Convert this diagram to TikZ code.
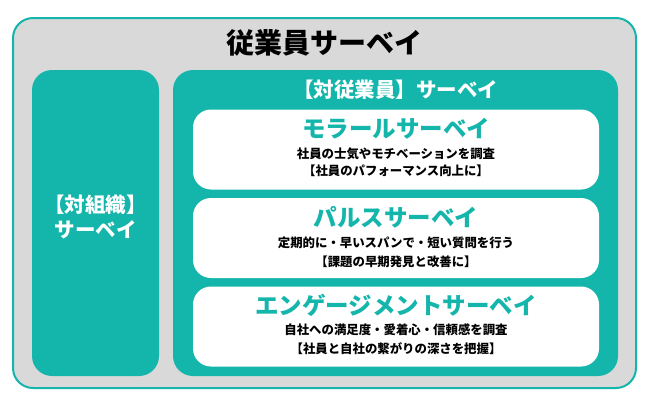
\documentclass[tikz,border=0pt]{standalone}
\usepackage{fontspec}
\setmainfont{Noto Sans CJK JP}
\definecolor{teal}{RGB}{20,181,171}
\definecolor{lgray}{RGB}{217,217,217}
\tikzset{
  frame/.style={draw=teal,line width=2pt,fill=lgray,rounded corners=20pt,inner sep=0pt,outer sep=0pt},
  panel/.style={fill=teal,rounded corners=20pt,inner sep=0pt,outer sep=0pt},
  card/.style={fill=white,rounded corners=18pt,inner sep=0pt,outer sep=0pt,minimum width=406pt,minimum height=80pt},
  maintitle/.style={font=\bfseries\fontsize{28}{30}\selectfont,text=black,inner sep=0pt},
  paneltitle/.style={font=\bfseries\fontsize{20.5}{24}\selectfont,text=white,inner sep=0pt},
  cardtitle/.style={font=\bfseries\fontsize{23.5}{26}\selectfont,text=teal,inner sep=0pt},
  cardtext/.style={font=\bfseries\fontsize{12.4}{14}\selectfont,text=black,inner sep=0pt},
}
\begin{document}
\begin{tikzpicture}[x=1pt,y=-1pt]
\useasboundingbox (0,0) rectangle (650,400);
\node[frame,minimum width=623pt,minimum height=370pt] (outer) at (324.5,203) {};
\node[panel,minimum width=127pt,minimum height=306pt] (left) at (95.5,223) {};
\node[panel,minimum width=445pt,minimum height=306pt] (right) at (395.5,223) {};
\node[card] (c1) at (396,149.5) {};
\node[card] (c2) at (396,238) {};
\node[card] (c3) at (396,326.5) {};
\node[maintitle] (t) at (324,43) {従業員サーベイ};
\node[paneltitle] (lt1) at (95.5,205) {【対組織】};
\node[paneltitle] (lt2) at (95.5,230) {サーベイ};
\node[paneltitle] (rt) at (395.5,90) {【対従業員】サーベイ};
\node[cardtitle] (c1t) at (396,129) {モラールサーベイ};
\node[cardtext] (c1a) at (396,154) {社員の士気やモチベーションを調査};
\node[cardtext] (c1b) at (396,171) {【社員のパフォーマンス向上に】};
\node[cardtitle] (c2t) at (396,217) {パルスサーベイ};
\node[cardtext] (c2a) at (396,243) {定期的に・早いスパンで・短い質問を行う};
\node[cardtext] (c2b) at (396,261.5) {【課題の早期発見と改善に】};
\node[cardtitle] (c3t) at (396,305) {エンゲージメントサーベイ};
\node[cardtext] (c3a) at (396,330) {自社への満足度・愛着心・信頼感を調査};
\node[cardtext] (c3b) at (396,349) {【社員と自社の繋がりの深さを把握】};
\end{tikzpicture}
\end{document}
